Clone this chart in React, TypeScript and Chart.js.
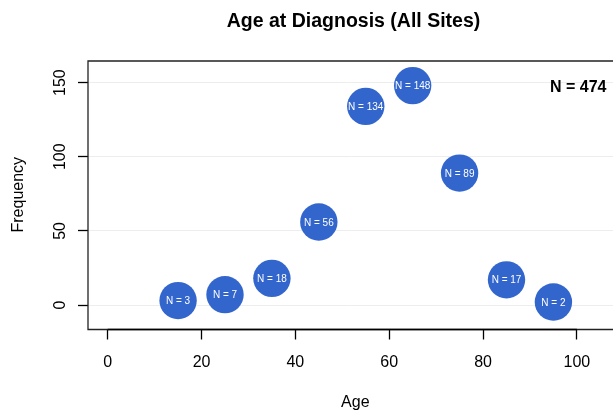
import React, { useEffect, useRef } from "react";
import { Chart, registerables } from "chart.js";

Chart.register(...registerables);

const ages = [15, 25, 35, 45, 55, 65, 75, 85, 95];
const counts = [3, 7, 18, 56, 134, 148, 89, 17, 2];
const xTicks = [0, 20, 40, 60, 80, 100];
const yTicks = [0, 50, 100, 150];
const titleText = "Age at Diagnosis (All Sites)";
const xLabel = "Age";
const yLabel = "Frequency";
const totalLabel = "N = 474";

const FONT = "'Liberation Sans', Arial, Helvetica, sans-serif";
const BLUE = "#3366CC";

const textPlugin = {
  id: "rText",
  afterDraw(chart: any) {
    const ctx = chart.ctx as CanvasRenderingContext2D;
    const xs = chart.scales.x;
    const ys = chart.scales.y;
    const area = chart.chartArea;
    ctx.save();

    // box
    ctx.strokeStyle = "#222";
    ctx.lineWidth = 1.3;
    ctx.beginPath();
    ctx.moveTo(chart.width, area.top);
    ctx.lineTo(area.left, area.top);
    ctx.lineTo(area.left, area.bottom);
    ctx.lineTo(chart.width, area.bottom);
    ctx.stroke();
    // x axis line
    ctx.strokeStyle = "#000";
    ctx.lineWidth = 1.6;
    ctx.beginPath();
    ctx.moveTo(xs.getPixelForValue(xTicks[0]), area.bottom);
    ctx.lineTo(xs.getPixelForValue(xTicks[xTicks.length - 1]), area.bottom);
    ctx.stroke();

    ctx.fillStyle = "#000";
    // title
    ctx.font = `bold 19.5px ${FONT}`;
    ctx.textAlign = "center";
    ctx.textBaseline = "alphabetic";
    ctx.fillText(titleText, 353.5, 27.3);

    // x tick labels
    ctx.font = `16px ${FONT}`;
    xTicks.forEach((v) => {
      ctx.fillText(String(v), xs.getPixelForValue(v), 366.7);
    });
    // x label
    ctx.fillText(xLabel, 355.3, 407.3);

    // y tick labels
    yTicks.forEach((v) => {
      ctx.save();
      ctx.translate(65, ys.getPixelForValue(v));
      ctx.rotate(-Math.PI / 2);
      ctx.fillText(String(v), 0, 0);
      ctx.restore();
    });
    // y label
    ctx.save();
    ctx.translate(23.3, 194.7);
    ctx.rotate(-Math.PI / 2);
    ctx.fillText(yLabel, 0, 0);
    ctx.restore();

    // N = total
    ctx.font = `bold 16px ${FONT}`;
    ctx.textAlign = "right";
    ctx.fillText(totalLabel, 606.5, 91.7);

    // point labels
    ctx.fillStyle = "#fff";
    ctx.font = `10px ${FONT}`;
    ctx.textAlign = "center";
    const meta = chart.getDatasetMeta(0);
    meta.data.forEach((pt: any, i: number) => {
      ctx.fillText(`N = ${counts[i]}`, pt.x, pt.y + 3.6);
    });

    ctx.restore();
  },
};

export default function App() {
  const ref = useRef<HTMLCanvasElement | null>(null);
  useEffect(() => {
    if (!ref.current) return;
    const chart = new Chart(ref.current, {
      type: "scatter",
      data: {
        datasets: [
          {
            data: ages.map((a, i) => ({ x: a, y: counts[i] })),
            backgroundColor: BLUE,
            borderWidth: 0,
            pointRadius: 18.7,
            pointHoverRadius: 18.7,
          },
        ],
      },
      options: {
        animation: false,
        responsive: false,
        events: [],
        layout: { padding: { top: 61, left: 0, right: 0, bottom: 0 } },
        plugins: {
          legend: { display: false },
          title: { display: false },
          tooltip: { enabled: false },
        },
        scales: {
          x: {
            type: "linear",
            min: -4.2,
            max: 107.7,
            afterBuildTicks: (s: any) => {
              s.ticks = xTicks.map((v) => ({ value: v }));
            },
            afterFit: (s: any) => {
              s.height = 83.5;
              s.paddingLeft = 0;
              s.paddingRight = 0;
            },
            ticks: { display: false },
            border: { display: false },
            grid: {
              drawOnChartArea: false,
              drawTicks: true,
              tickLength: 10,
              tickColor: "#000",
              tickWidth: 1.3,
            },
          },
          y: {
            type: "linear",
            min: -16.5,
            max: 164.6,
            afterBuildTicks: (s: any) => {
              s.ticks = yTicks.map((v) => ({ value: v }));
            },
            afterFit: (s: any) => {
              s.width = 88;
              s.paddingTop = 0;
              s.paddingBottom = 0;
            },
            ticks: { display: false },
            border: { display: false },
            grid: {
              color: "#ededed",
              lineWidth: 1,
              drawTicks: true,
              tickLength: 10,
              tickColor: "#000",
              tickWidth: 1.3,
            },
          },
        },
      },
      plugins: [textPlugin],
    });
    // keep the plot region flush with the right edge, as in the reference
    const ctrl: any = chart.getDatasetMeta(0).controller;
    ctrl.getMaxOverflow = () => 0;
    chart.update();
    return () => chart.destroy();
  }, []);
  return (
    <div style={{ position: "fixed", left: 0, top: 0, width: 613, height: 413, background: "#fff" }}>
      <canvas ref={ref} width={613} height={413} style={{ display: "block" }} />
    </div>
  );
}
